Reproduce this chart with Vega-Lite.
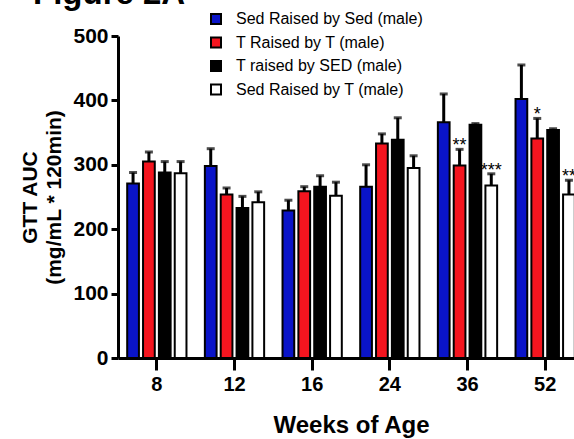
{
  "$schema": "https://vega.github.io/schema/vega-lite/v6.json",
  "autosize": {"type": "none"},
  "padding": {"left": 118, "top": 36, "right": 0, "bottom": 81},
  "width": 456,
  "height": 322,
  "background": "white",
  "config": {
    "font": "Liberation Sans",
    "view": {"stroke": null}
  },
  "title": {
    "text": "Figure 2A",
    "fontSize": 33,
    "fontWeight": "bold",
    "anchor": "start",
    "frame": "group",
    "baseline": "alphabetic",
    "dx": -85,
    "dy": 26,
    "offset": 0,
    "color": "black"
  },
  "data": {
    "values": [
      {"week": "8", "group": "Sed Raised by Sed (male)", "value": 271, "upper": 288, "sig": ""},
      {"week": "8", "group": "T Raised by T (male)", "value": 305, "upper": 320, "sig": ""},
      {"week": "8", "group": "T raised by SED (male)", "value": 288, "upper": 305, "sig": ""},
      {"week": "8", "group": "Sed Raised by T (male)", "value": 287, "upper": 305, "sig": ""},
      {"week": "12", "group": "Sed Raised by Sed (male)", "value": 298, "upper": 325, "sig": ""},
      {"week": "12", "group": "T Raised by T (male)", "value": 254, "upper": 264, "sig": ""},
      {"week": "12", "group": "T raised by SED (male)", "value": 233, "upper": 251, "sig": ""},
      {"week": "12", "group": "Sed Raised by T (male)", "value": 242, "upper": 258, "sig": ""},
      {"week": "16", "group": "Sed Raised by Sed (male)", "value": 229, "upper": 245, "sig": ""},
      {"week": "16", "group": "T Raised by T (male)", "value": 259, "upper": 266, "sig": ""},
      {"week": "16", "group": "T raised by SED (male)", "value": 266, "upper": 283, "sig": ""},
      {"week": "16", "group": "Sed Raised by T (male)", "value": 252, "upper": 273, "sig": ""},
      {"week": "24", "group": "Sed Raised by Sed (male)", "value": 266, "upper": 300, "sig": ""},
      {"week": "24", "group": "T Raised by T (male)", "value": 333, "upper": 348, "sig": ""},
      {"week": "24", "group": "T raised by SED (male)", "value": 339, "upper": 373, "sig": ""},
      {"week": "24", "group": "Sed Raised by T (male)", "value": 295, "upper": 314, "sig": ""},
      {"week": "36", "group": "Sed Raised by Sed (male)", "value": 366, "upper": 410, "sig": ""},
      {"week": "36", "group": "T Raised by T (male)", "value": 299, "upper": 324, "sig": "**"},
      {"week": "36", "group": "T raised by SED (male)", "value": 362, "upper": 364, "sig": ""},
      {"week": "36", "group": "Sed Raised by T (male)", "value": 268, "upper": 286, "sig": "***"},
      {"week": "52", "group": "Sed Raised by Sed (male)", "value": 402, "upper": 455, "sig": ""},
      {"week": "52", "group": "T Raised by T (male)", "value": 341, "upper": 372, "sig": "*"},
      {"week": "52", "group": "T raised by SED (male)", "value": 354, "upper": 356, "sig": ""},
      {"week": "52", "group": "Sed Raised by T (male)", "value": 254, "upper": 276, "sig": "**"}
    ]
  },
  "encoding": {
    "x": {
      "field": "week",
      "type": "ordinal",
      "sort": ["8", "12", "16", "24", "36", "52"],
      "scale": {"range": [0, 466], "paddingInner": 0, "paddingOuter": 0},
      "axis": {
        "title": "Weeks of Age",
        "titleFontSize": 24,
        "titleFontWeight": "bold",
        "titleColor": "black",
        "titlePadding": 19,
        "labelFontSize": 20,
        "labelFontWeight": "bold",
        "labelColor": "black",
        "labelAngle": 0,
        "labelPadding": 4,
        "tickSize": 12,
        "tickWidth": 3,
        "tickColor": "black",
        "domainWidth": 3,
        "domainColor": "black"
      }
    },
    "xOffset": {
      "field": "group",
      "type": "nominal",
      "sort": ["Sed Raised by Sed (male)", "T Raised by T (male)", "T raised by SED (male)", "Sed Raised by T (male)"],
      "scale": {"paddingInner": 0.26, "paddingOuter": 0.58}
    }
  },
  "layer": [
    {
      "mark": {"type": "rule", "strokeWidth": 3, "color": "black"},
      "encoding": {
        "y": {"field": "value", "type": "quantitative"},
        "y2": {"field": "upper"}
      }
    },
    {
      "mark": {"type": "tick", "size": 8, "thickness": 3, "color": "black"},
      "encoding": {
        "y": {"field": "upper", "type": "quantitative"}
      }
    },
    {
      "mark": {"type": "bar", "stroke": "black", "strokeWidth": 2},
      "encoding": {
        "y": {
          "field": "value",
          "type": "quantitative",
          "scale": {"domain": [0, 500], "nice": false},
          "axis": {
            "values": [0, 100, 200, 300, 400, 500],
            "title": ["GTT AUC", "(mg/mL * 120min)"],
            "titleFontSize": 21,
            "titleFontWeight": "bold",
            "titleColor": "black",
            "titleLineHeight": 24,
            "titlePadding": 8,
            "labelFontSize": 21,
            "labelFontWeight": "bold",
            "labelColor": "black",
            "labelPadding": 3,
            "tickSize": 7,
            "tickWidth": 3,
            "tickColor": "black",
            "domainWidth": 3,
            "domainColor": "black",
            "grid": false
          }
        },
        "fill": {
          "field": "group",
          "type": "nominal",
          "sort": ["Sed Raised by Sed (male)", "T Raised by T (male)", "T raised by SED (male)", "Sed Raised by T (male)"],
          "scale": {
            "domain": ["Sed Raised by Sed (male)", "T Raised by T (male)", "T raised by SED (male)", "Sed Raised by T (male)"],
            "range": ["#0a14c8", "#f5151f", "#000000", "#ffffff"]
          },
          "legend": {
            "orient": "none",
            "legendX": 90,
            "legendY": -25,
            "title": null,
            "symbolType": "square",
            "symbolSize": 100,
            "symbolStrokeColor": "black",
            "symbolStrokeWidth": 2,
            "labelFontSize": 16,
            "labelColor": "black",
            "labelOffset": 12,
            "labelLimit": 0,
            "rowPadding": 5.5
          }
        }
      }
    },
    {
      "transform": [{"filter": "datum.sig != ''"}],
      "mark": {"type": "text", "fontSize": 18, "baseline": "alphabetic", "dy": 2, "color": "black"},
      "encoding": {
        "y": {"field": "upper", "type": "quantitative"},
        "text": {"field": "sig", "type": "nominal"}
      }
    }
  ]
}
